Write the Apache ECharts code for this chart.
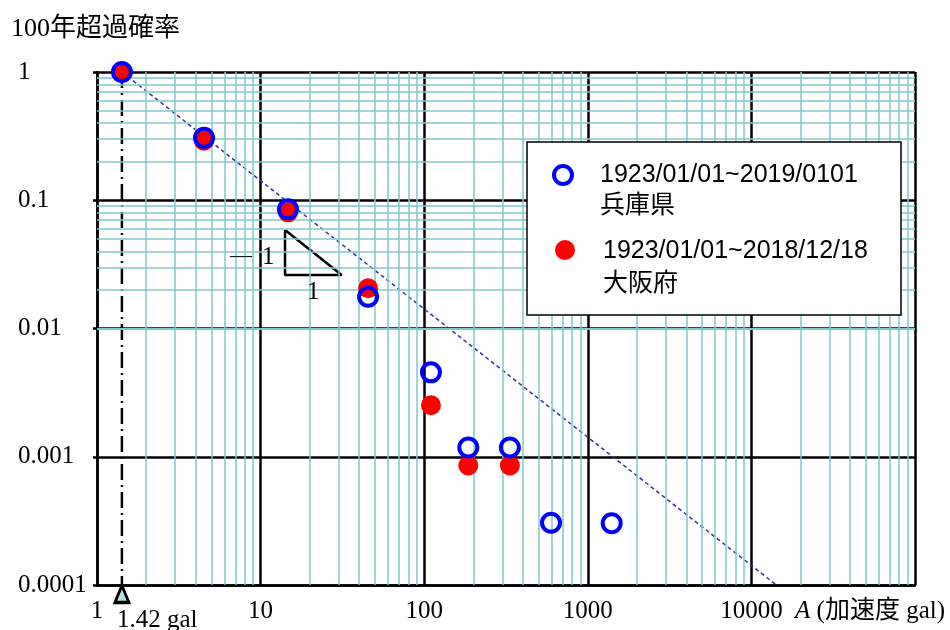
<!DOCTYPE html>
<html><head><meta charset="utf-8">
<script src="https://cdn.jsdelivr.net/npm/echarts@6/dist/echarts.min.js"></script>
<style>html,body{margin:0;padding:0;background:#fff}#c{width:950px;height:630px}</style>
</head><body><div id="c"></div>
<script>
// ---- data ----
const hyogoA = [1.42, 4.51, 14.7, 45.4, 110, 186, 334, 596, 1400];
const hyogoP = [1, 0.307, 0.085, 0.0177, 0.00455, 0.00118, 0.00118, 0.000306, 0.000303];
const osakaA = [1.42, 4.51, 14.7, 45.4, 110, 186, 334];
const osakaP = [1, 0.291, 0.0805, 0.0206, 0.00252, 0.000855, 0.000855];
const refLineA = [1.42, 14200];
const refLineP = [1, 0.0001];
const thresholdA = [1.42, 1.42];
const thresholdP = [1, 0.0001];
const slopeTriA = [14.1, 14.1, 31.3, 14.1];
const slopeTriP = [0.0586, 0.0261, 0.0261, 0.0586];
const xDecadeLabels = ['1', '10', '100', '1000', '10000', ''];   // exponent 0..5
const yDecadeLabels = ['0.0001', '0.001', '0.01', '0.1', '1'];   // exponent -4..0
const seriesNames = ['1923/01/01~2019/0101', '1923/01/01~2018/12/18'];
const seriesPlaces = ['兵庫県', '大阪府'];
const titleText = '100年超過確率';
const xName = '{i|A} (加速度 gal)';
const thresholdLabel = '1.42 gal';

// minor grid positions (log paper)
const xMinor = [], yMinor = [];
for (let e = 0; e <= 4; e++) for (let k = 2; k <= 9; k++) xMinor.push(k * Math.pow(10, e));
for (let e = -4; e <= -1; e++) for (let k = 2; k <= 9; k++) yMinor.push(+(k * Math.pow(10, e)).toPrecision(3));

const zip = (a, b) => a.map((v, i) => [v, b[i]]);
const SERIF = "'Liberation Serif','Noto Sans CJK JP',serif";
const SANS = "'Liberation Sans','Noto Sans CJK JP',sans-serif";
const teal = '#80c8ca';

const chart = echarts.init(document.getElementById('c'), null, {renderer: 'canvas'});
chart.setOption({
  animation: false,
  backgroundColor: '#fff',
  title: {text: titleText, left: 6, top: 11, textStyle: {fontFamily: SERIF, fontSize: 26, fontWeight: 'normal', color: '#000'}},
  grid: {left: 97, right: 35, top: 72, bottom: 45},
  xAxis: {
    type: 'log', logBase: 10, min: 1, max: 100000, z: 2,
    axisLine: {lineStyle: {color: '#000', width: 2.5}},
    axisTick: {show: false},
    splitLine: {show: true, lineStyle: {color: '#000', width: 2.5}},
    axisLabel: {fontFamily: SERIF, fontSize: 25, color: '#000', margin: 14,
      formatter: v => xDecadeLabels[Math.round(Math.log10(v))] ?? ''},
    name: xName, nameLocation: 'end', nameGap: 30,
    nameTextStyle: {fontFamily: SERIF, fontSize: 25, color: '#000', align: 'right', verticalAlign: 'top', padding: [14, 0, 0, 0],
      rich: {i: {fontStyle: 'italic', fontFamily: SERIF, fontSize: 25, color: '#000'}}}
  },
  yAxis: {
    type: 'log', logBase: 10, min: 0.0001, max: 1, z: 2,
    axisLine: {lineStyle: {color: '#000', width: 2.5}},
    axisTick: {show: true, length: 4, lineStyle: {color: '#000', width: 2.5}},
    splitLine: {show: true, lineStyle: {color: '#000', width: 2.5}},
    axisLabel: {fontFamily: SERIF, fontSize: 25, color: '#000', align: 'left', margin: 79,
      formatter: v => yDecadeLabels[Math.round(Math.log10(v)) + 4] ?? ''}
  },
  series: [
    { // minor grid (log paper)
      type: 'line', z: 1, silent: true, data: [[1, 1]], showSymbol: false, symbolSize: 0,
      lineStyle: {width: 0, opacity: 0},
      markLine: {silent: true, symbol: ['none', 'none'], label: {show: false}, animation: false,
        lineStyle: {color: teal, width: 1.5, type: 'solid'}, emphasis: {disabled: true},
        data: xMinor.map(v => ({xAxis: v})).concat(yMinor.map(v => ({yAxis: v})))}
    },
    { // threshold dash-dot vertical
      type: 'line', z: 3, silent: true, data: zip(thresholdA, thresholdP), showSymbol: false, symbol: 'none',
      lineStyle: {color: '#000', width: 2.5, type: [16, 5, 2, 5]}
    },
    { // threshold triangle
      type: 'scatter', z: 7, silent: true, clip: false, data: [[thresholdA[1], thresholdP[1]]],
      symbol: 'triangle', symbolSize: [14, 17], symbolOffset: [0, 9],
      itemStyle: {color: '#b8e0e0', borderColor: '#000', borderWidth: 3, opacity: 1}
    },
    { // slope triangle
      type: 'line', z: 3, silent: true, data: zip(slopeTriA, slopeTriP), showSymbol: false, symbol: 'none',
      lineStyle: {color: '#000', width: 2.5}
    },
    { // slope -1 reference dashed line
      type: 'line', z: 4, silent: true, data: zip(refLineA, refLineP), showSymbol: false, symbol: 'none',
      lineStyle: {color: '#333399', width: 1.5, type: [4, 3]}
    },
    {
      name: seriesNames[1] + '\n' + seriesPlaces[1], type: 'scatter', z: 5, data: zip(osakaA, osakaP),
      symbol: 'circle', symbolSize: 20, itemStyle: {color: '#ff0000', opacity: 1}
    },
    {
      name: seriesNames[0] + '\n' + seriesPlaces[0], type: 'scatter', z: 6, data: zip(hyogoA, hyogoP),
      symbol: 'circle', symbolSize: 18, itemStyle: {color: 'rgba(0,0,0,0)', borderColor: '#0000ff', borderWidth: 4, opacity: 1}
    }
  ],
  graphic: [
    {type: 'text', left: 117, top: 608, z: 10, style: {text: thresholdLabel, font: '25px ' + SERIF, fill: '#000'}},
    {type: 'text', x: 230, y: 256, z: 10, style: {text: '—', font: '22px ' + SERIF, fill: '#000', verticalAlign: 'middle'}},
    {type: 'text', x: 262, y: 257, z: 10, style: {text: '1', font: '25px ' + SERIF, fill: '#000', verticalAlign: 'middle'}},
    {type: 'text', x: 307, y: 292, z: 10, style: {text: '1', font: '25px ' + SERIF, fill: '#000', verticalAlign: 'middle'}},
    {type: 'rect', z: 20, shape: {x: 527, y: 142, width: 374, height: 173}, style: {fill: '#fff', stroke: '#000', lineWidth: 1.5}},
    {type: 'circle', z: 21, shape: {cx: 563, cy: 175, r: 9}, style: {fill: 'none', stroke: '#0000ff', lineWidth: 4}},
    {type: 'circle', z: 21, shape: {cx: 565, cy: 250, r: 10}, style: {fill: '#ff0000'}},
    {type: 'text', z: 21, x: 600, y: 175, style: {text: seriesNames[0], font: '25px ' + SANS, fill: '#000', verticalAlign: 'middle'}},
    {type: 'text', z: 21, x: 600, y: 206, style: {text: seriesPlaces[0], font: '25px ' + SANS, fill: '#000', verticalAlign: 'middle'}},
    {type: 'text', z: 21, x: 603, y: 251, style: {text: seriesNames[1], font: '25px ' + SANS, fill: '#000', verticalAlign: 'middle'}},
    {type: 'text', z: 21, x: 603, y: 284, style: {text: seriesPlaces[1], font: '25px ' + SANS, fill: '#000', verticalAlign: 'middle'}}
  ]
});
</script>
</body></html>
